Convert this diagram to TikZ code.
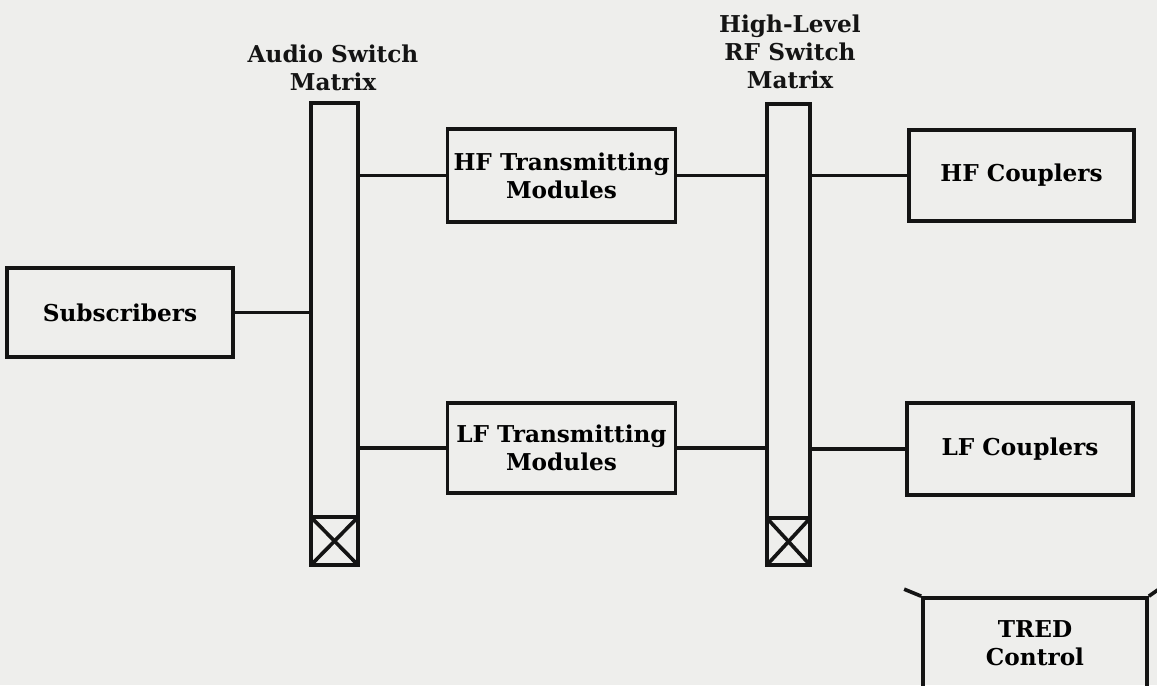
\documentclass[tikz,border=0pt]{standalone}
\usepackage{fontspec}
\setmainfont{DejaVu Serif}
\usetikzlibrary{positioning}
\definecolor{ScanPaper}{HTML}{EEEEEC}
\definecolor{ScanInk}{HTML}{141414}

\begin{document}
\begin{tikzpicture}[
    x=0.025cm,y=-0.025cm,
    font=\bfseries\fontsize{16.5}{20}\selectfont,
    blk/.style={draw=ScanInk,line width=2.6pt,align=center,inner sep=0pt,minimum width=5.7cm,minimum height=2.3cm},
    mtx/.style={draw=ScanInk,line width=2.6pt,inner sep=0pt},
    lbl/.style={align=center,inner sep=0pt,text=ScanInk},
    wire/.style={ScanInk,line width=2.6pt}
  ]
    \fill[ScanPaper] (0,0) rectangle (1157,685);
    \useasboundingbox (0,0) rectangle (1157,685);
    \clip (0,0) rectangle (1157,685);
    % switch matrices
    \node[mtx,minimum width=1.175cm,minimum height=11.55cm] (am) at (334.5,334) {};
    \node[mtx,minimum width=1.175cm,minimum height=1.2cm,anchor=south] (amx) at (am.south) {};
    \node[mtx,minimum width=1.075cm,minimum height=11.525cm] (rm) at (788.5,334.5) {};
    \node[mtx,minimum width=1.075cm,minimum height=1.175cm,anchor=south] (rmx) at (rm.south) {};
    \draw[wire,shorten <=2pt,shorten >=2pt] (amx.north west) -- (amx.south east);
    \draw[wire,shorten <=2pt,shorten >=2pt] (amx.north east) -- (amx.south west);
    \draw[wire,shorten <=2pt,shorten >=2pt] (rmx.north west) -- (rmx.south east);
    \draw[wire,shorten <=2pt,shorten >=2pt] (rmx.north east) -- (rmx.south west);
    \node[lbl] (amlbl) at (333,68) {Audio Switch\\Matrix};
    \node[lbl] (rmlbl) at (790,52) {High-Level\\RF Switch\\Matrix};
    % blocks
    \node[blk,minimum width=5.65cm,minimum height=2.225cm] (subs) at (120,312.5) {Subscribers};
    \node[blk,minimum height=2.325cm] (hftx) at (561.5,175.5) {HF Transmitting\\Modules};
    \node[blk,minimum height=2.25cm] (lftx) at (561.5,448) {LF Transmitting\\Modules};
    \node[blk,minimum width=5.625cm,minimum height=2.275cm] (hfc) at (1021.5,175.5) {HF Couplers};
    \node[blk,minimum width=5.65cm] (lfc) at (1020,449) {LF Couplers};
    \node[blk,minimum width=5.6cm,minimum height=2.25cm] (tred) at (1035,643) {TRED\\Control};
    \draw[wire] (tred.north west) -- ++(-17,-7);
    \draw[wire] (tred.north east) -- ++(10,-7);
    % connections
    \draw[wire] (subs.east) -- (subs.east -| am.west);
    \draw[wire] (hftx.west) -- (hftx.west -| am.east);
    \draw[wire] (lftx.west) -- (lftx.west -| am.east);
    \draw[wire] (hftx.east) -- (hftx.east -| rm.west);
    \draw[wire] (lftx.east) -- (lftx.east -| rm.west);
    \draw[wire] (hfc.west) -- (hfc.west -| rm.east);
    \draw[wire] (lfc.west) -- (lfc.west -| rm.east);
\end{tikzpicture}
\end{document}
